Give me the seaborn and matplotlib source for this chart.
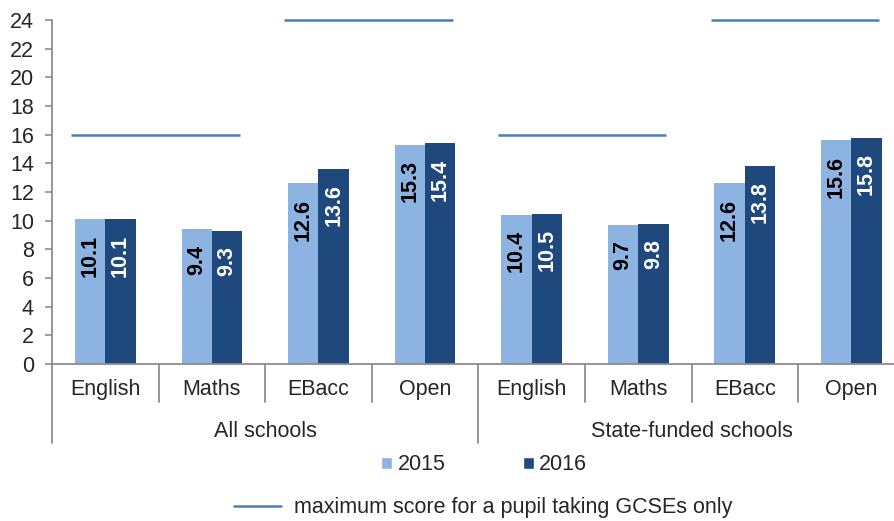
import matplotlib
matplotlib.use("Agg")
import pandas as pd
import matplotlib.pyplot as plt
import matplotlib.transforms as mtransforms
from matplotlib.lines import Line2D
from matplotlib.patches import Patch
import seaborn as sns

# ---------------------------------------------------------------------------
# Data
# ---------------------------------------------------------------------------
groups = ["All schools", "State-funded schools"]
subjects = ["English", "Maths", "EBacc", "Open"]
years = ["2015", "2016"]
scores_2015 = [10.1, 9.4, 12.6, 15.3, 10.4, 9.7, 12.6, 15.6]
scores_2016 = [10.1, 9.3, 13.6, 15.4, 10.5, 9.8, 13.8, 15.8]
# maximum score for a pupil taking GCSEs only, one per pair of subjects
max_pairs = [("English", "Maths"), ("EBacc", "Open")]
max_scores = [16, 24, 16, 24]
max_label = "maximum score for a pupil taking GCSEs only"

# ---------------------------------------------------------------------------
# Style
# ---------------------------------------------------------------------------
LIGHT = "#8DB3E2"
DARK = "#1F497D"
LINE = "#4A7EBB"
GREY = "#8C8C8C"
FS = 15.5
W, H = 895, 521

sns.set_style("white")
plt.rcParams["font.family"] = ["Liberation Sans", "DejaVu Sans"]
plt.rcParams["font.size"] = FS

cats = [f"{g}|{s}" for g in groups for s in subjects]
df = pd.DataFrame({
    "cat": cats * 2,
    "year": [years[0]] * len(cats) + [years[1]] * len(cats),
    "score": scores_2015 + scores_2016,
})

fig = plt.figure(figsize=(W / 100, H / 100), dpi=100)
ax = fig.add_axes([52 / W, 157 / H, 1 - 52 / W, 344 / H])

sns.barplot(data=df, x="cat", y="score", hue="year", order=cats, hue_order=years,
            palette=[LIGHT, DARK], width=0.57, errorbar=None, saturation=1,
            legend=False, linewidth=0, ax=ax)

# value labels inside the bar ends
for container, col in zip(ax.containers, ["black", "white"]):
    for bar in container:
        h = bar.get_height()
        ax.annotate(f"{h:.1f}", (bar.get_x() + bar.get_width() / 2, h),
                    xytext=(0, -11), textcoords="offset points",
                    rotation=90, ha="center", va="top",
                    fontsize=15.5, fontweight="bold", color=col)

# maximum score lines across each subject pair
n_sub = len(subjects)
k = 0
for g in range(len(groups)):
    for a, b in max_pairs:
        x0 = g * n_sub + subjects.index(a) - 0.32
        x1 = g * n_sub + subjects.index(b) + 0.26
        ax.hlines(max_scores[k], x0, x1, color=LINE, lw=1.8, clip_on=False)
        k += 1

ax.set_xlim(-0.5, len(cats) - 0.5 - 9.7 / 106.67)
ax.set_ylim(0, 24)
ax.set_yticks(range(0, 25, 2))
ax.set_xlabel("")
ax.set_ylabel("")

for s in ["top", "right"]:
    ax.spines[s].set_visible(False)
for s in ["left", "bottom"]:
    ax.spines[s].set_color(GREY)
    ax.spines[s].set_linewidth(1.3)
ax.tick_params(axis="y", direction="out", length=5, width=1.2, color=GREY,
               pad=8, labelsize=FS, left=True)
ax.set_xticks(range(len(cats)))
ax.set_xticklabels([])
ax.tick_params(axis="x", length=0)

# two-level category axis
trans = mtransforms.blended_transform_factory(ax.transData, ax.transAxes)
for i, c in enumerate(cats):
    g, s = c.split("|")
    ax.text(i, -0.075, s, transform=trans, ha="center", va="center", fontsize=FS)
for gi, g in enumerate(groups):
    mid = gi * n_sub + (n_sub - 1) / 2
    ax.text(mid, -0.195, g, transform=trans, ha="center", va="center", fontsize=FS)
for i in range(len(cats) + 1):
    x = i - 0.5
    is_group_edge = i % n_sub == 0
    y_end = -0.23 if is_group_edge else -0.11
    ax.plot([x, x], [0, y_end], transform=trans, color=GREY, lw=1.3, clip_on=False)

# legends
bar_handles = [Patch(facecolor=LIGHT), Patch(facecolor=DARK)]
fig.legend(bar_handles, years, loc="center", bbox_to_anchor=(0.541, (H - 465) / H),
           ncol=2, frameon=False, handlelength=0.5, handleheight=0.5,
           handletextpad=0.25, columnspacing=3.6, fontsize=FS)
fig.legend([Line2D([0], [0], color=LINE, lw=1.8)], [max_label], loc="center",
           bbox_to_anchor=(0.54, (H - 508) / H), frameon=False,
           handlelength=2.2, handletextpad=0.6, fontsize=FS)

fig.savefig("out.png", dpi=100)
